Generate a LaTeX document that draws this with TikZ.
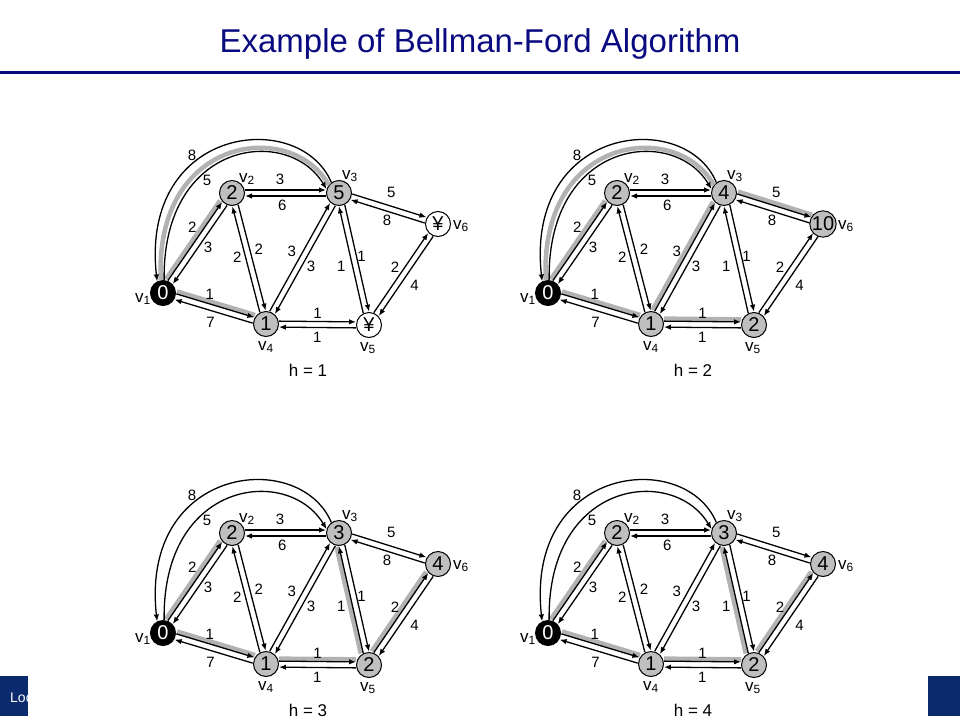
\documentclass[tikz,border=0pt]{standalone}
\usepackage{fontspec}
\setmainfont{Liberation Sans}
\usetikzlibrary{arrows.meta, calc, positioning}
\definecolor{navy}{RGB}{10,10,128}
\definecolor{barblue}{RGB}{12,42,110}
\tikzset{
	vtx/.style={circle, draw, line width=1pt, fill=gray!50, minimum size=25pt, inner sep=0pt, font=\fontsize{20}{20}\selectfont},
	src/.style={vtx, fill=black, text=white},
	unreached/.style={vtx, fill=white},
	edge/.style={line width=1.3pt, -{Latex[length=7pt,width=5.5pt]}},
	hl/.style={line width=4.5pt, draw=gray!60},
	wt/.style={font=\fontsize{15}{15}\selectfont, inner sep=0pt},
	vlab/.style={font=\fontsize{17}{17}\selectfont, inner sep=0pt},
	hlab/.style={font=\fontsize{17}{17}\selectfont, inner sep=0pt},
}
% gray band beside a tree edge
\newcommand\hledge[3]{\draw[hl] ($(#1v#2)!13pt!(#1v#3)!5.5pt!90:(#1v#3)$) -- ($(#1v#3)!13pt!(#1v#2)!5.5pt!-90:(#1v#2)$);}
\newcommand\hlarc[1]{\draw[hl] (#1v1.100) .. controls (154,135) and (292,119) .. (#1v3.142);}
% the graph, same in every step
\newcommand\bfedges[1]{%
	\node[vlab] (#1l1) at ([shift={(-20,6)}]#1v1) {v\textsubscript{1}};
	\node[vlab] (#1l2) at ([shift={(15,-14)}]#1v2) {v\textsubscript{2}};
	\node[vlab] (#1l3) at ([shift={(11,-17)}]#1v3) {v\textsubscript{3}};
	\node[vlab] (#1l4) at ([shift={(0,23)}]#1v4) {v\textsubscript{4}};
	\node[vlab] (#1l5) at ([shift={(-1,23)}]#1v5) {v\textsubscript{5}};
	\node[vlab] (#1l6) at ([shift={(23,2)}]#1v6) {v\textsubscript{6}};
	\foreach \a/\b/\w/\p/\dist in {1/2/2/.58/13pt, 2/1/3/.48/11pt, 2/3/3/.45/14pt, 3/2/6/.53/12pt,
		4/2/2/.53/11pt, 2/4/2/.45/12pt, 4/3/3/.51/13pt, 3/4/3/.52/11.5pt,
		5/3/1/.47/14pt, 3/5/1/.49/8pt, 4/5/1/.5/11.5pt, 5/4/1/.5/12.5pt,
		3/6/5/.48/16pt, 6/3/8/.48/11.5pt, 5/6/2/.51/11pt, 6/5/4/.52/15pt,
		1/4/1/.42/12.5pt, 4/1/7/.5/14pt}
	{
		\draw[edge] ($(#1v\a)!13pt!(#1v\b)!3pt!90:(#1v\b)$) -- ($(#1v\b)!13pt!(#1v\a)!3pt!-90:(#1v\a)$);
		\node[wt] (#1w\a\b) at ($(#1v\a)!\p!(#1v\b)!\dist!90:(#1v\b)$) {\w};
	}
	\draw[edge] (#1v3.126) .. controls (300,108) and (140,125) .. (#1v1.117);
	\draw[edge] (#1v1.85) .. controls (162,140) and (288,125) .. (#1v3.163);
	\node[wt] (#1w31) at (192,155) {8};
	\node[wt] (#1w13) at (207,180) {5};
}

\begin{document}
\begin{tikzpicture}[x=1pt, y=-1pt]
	\useasboundingbox (0,0) rectangle (960,720);
	\node[anchor=base, text=navy, font=\fontsize{33}{33}\selectfont, inner sep=0pt] (title) at (480,52) {Example of Bellman-Ford Algorithm};
	\draw[navy, line width=3pt] (0,72) -- (960,72);
	\begin{scope}
		\clip (0,676) rectangle (28,716);
		\fill[barblue] (0,676) rectangle (28,716);
		\node[anchor=base west, text=white, font=\fontsize{14}{14}\selectfont, inner sep=0pt] (foot) at (10,702) {Loc};
	\end{scope}
	\fill[barblue] (928,676) rectangle (960,716);

	% h = 1
	\begin{scope}
		\node[src] (h1v1) at (163,293) {0};
		\node[vtx] (h1v2) at (232,193) {2};
		\node[vtx] (h1v3) at (339,193) {5};
		\node[vtx] (h1v4) at (266,324) {1};
		\node[unreached] (h1v5) at (369,325) {¥};
		\node[unreached] (h1v6) at (438,224) {¥};
		\foreach \a/\b in {1/2,1/4}
			\hledge{h1}{\a}{\b};
		\hlarc{h1}
		\bfedges{h1}
		\node[hlab] (h1cap) at (308,370) {h = 1};
	\end{scope}

	% h = 2
	\begin{scope}[shift={(385,0)}]
		\node[src] (h2v1) at (163,293) {0};
		\node[vtx] (h2v2) at (232,193) {2};
		\node[vtx] (h2v3) at (339,193) {4};
		\node[vtx] (h2v4) at (266,324) {1};
		\node[vtx] (h2v5) at (369,325) {2};
		\node[vtx] (h2v6) at (438,224) {10};
		\foreach \a/\b in {1/2,1/4,4/3,4/5,3/6}
			\hledge{h2}{\a}{\b};
		\hlarc{h2}
		\bfedges{h2}
		\node[hlab] (h2cap) at (308,370) {h = 2};
	\end{scope}

	% h = 3
	\begin{scope}[shift={(0,340)}]
		\node[src] (h3v1) at (163,293) {0};
		\node[vtx] (h3v2) at (232,193) {2};
		\node[vtx] (h3v3) at (339,193) {3};
		\node[vtx] (h3v4) at (266,324) {1};
		\node[vtx] (h3v5) at (369,325) {2};
		\node[vtx] (h3v6) at (438,224) {4};
		\foreach \a/\b in {1/2,1/4,4/5,5/3,5/6}
			\hledge{h3}{\a}{\b};
		\bfedges{h3}
		\node[hlab] (h3cap) at (308,370) {h = 3};
	\end{scope}

	% h = 4
	\begin{scope}[shift={(385,340)}]
		\node[src] (h4v1) at (163,293) {0};
		\node[vtx] (h4v2) at (232,193) {2};
		\node[vtx] (h4v3) at (339,193) {3};
		\node[vtx] (h4v4) at (266,324) {1};
		\node[vtx] (h4v5) at (369,325) {2};
		\node[vtx] (h4v6) at (438,224) {4};
		\foreach \a/\b in {1/2,1/4,4/5,5/3,5/6}
			\hledge{h4}{\a}{\b};
		\bfedges{h4}
		\node[hlab] (h4cap) at (308,370) {h = 4};
	\end{scope}
\end{tikzpicture}
\end{document}
